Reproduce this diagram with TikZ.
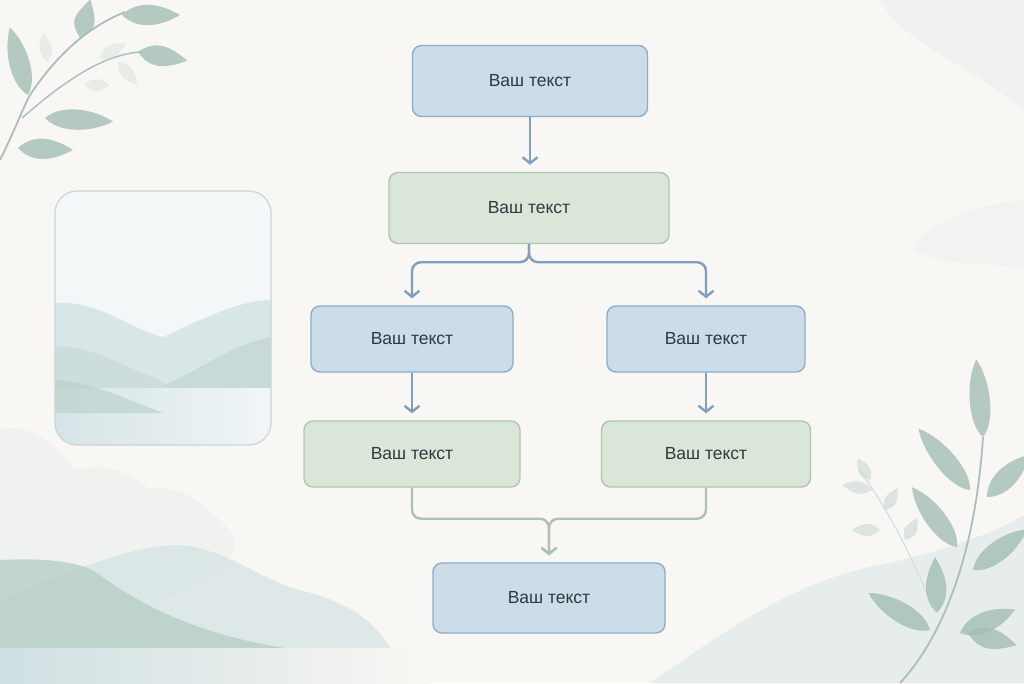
\documentclass[tikz,border=0pt]{standalone}
\usepackage{fontspec}
\setsansfont{Liberation Sans}
\usepackage{tikz}
\usetikzlibrary{arrows.meta}
\usetikzlibrary{calc,positioning}

\definecolor{paper}{HTML}{F8F7F3}
\definecolor{bluefill}{HTML}{CDDCE9}
\definecolor{blueline}{HTML}{8EADCA}
\definecolor{greenfill}{HTML}{D9E6D8}
\definecolor{greenline}{HTML}{AFC6AE}
\definecolor{flowblue}{HTML}{7F9FBE}
\definecolor{flowgreen}{HTML}{ABC2B2}
\definecolor{leafgreen}{HTML}{A3BEB4}
\definecolor{stemgreen}{HTML}{A9C0BA}
\definecolor{hillblue}{HTML}{CFDFE2}
\definecolor{hillgreen}{HTML}{B5CDC4}
\definecolor{frameline}{HTML}{C9D5DC}
\definecolor{textgray}{HTML}{2E3A40}

\begin{document}
\begin{tikzpicture}[x=1pt, y=-1pt, >=Stealth,
    box/.style={draw, line width=1.4pt, rounded corners=9pt, minimum height=66pt,
        font=\sffamily\fontsize{17.5}{20}\selectfont, text=textgray},
    bluebox/.style={box, fill=bluefill, draw=blueline},
    greenbox/.style={box, fill=greenfill, draw=greenline},
    flow/.style={line width=2.4pt, draw=flowblue, shorten >=7pt, rounded corners=9pt,
        -{Straight Barb[length=6pt, width=15pt]}},
    merge/.style={flow, draw=flowgreen},
    leaf/.style={fill=leafgreen, fill opacity=0.8, draw=none},
    faintleaf/.style={fill=leafgreen!60!white, fill opacity=0.35, draw=none}]

    \useasboundingbox (0,0) rectangle (1024,683);
    \fill[paper] (0,0) rectangle (1024,683);

    % soft clouds and hills
    \fill[hillblue, opacity=0.2] (1024,0) -- (880,0) .. controls (900,40) and (960,60) .. (1024,110) -- cycle;
    \fill[hillblue, opacity=0.15] (1024,200) .. controls (960,205) and (905,240) .. (915,250)
        .. controls (950,270) and (1000,260) .. (1024,270) -- cycle;
    \fill[hillblue, opacity=0.2] (0,600) -- (0,430) .. controls (30,420) and (60,450) .. (75,470)
        .. controls (110,460) and (140,480) .. (150,490) .. controls (180,480) and (210,510) .. (230,530)
        .. controls (250,560) and (200,590) .. (150,600) -- cycle;
    \fill[hillblue, opacity=0.6] (0,640) -- (0,600) .. controls (60,575) and (130,545) .. (180,545)
        .. controls (230,550) and (260,580) .. (300,590) .. controls (340,600) and (370,615) .. (390,648)
        -- (0,648) -- cycle;
    \fill[hillgreen, opacity=0.75] (0,648) -- (0,560) .. controls (40,558) and (80,560) .. (100,575)
        .. controls (140,605) and (200,635) .. (285,648) -- cycle;
    \shade[left color=hillblue, right color=paper] (0,648) rectangle (430,683);
    \fill[hillblue, opacity=0.4] (650,683) .. controls (740,620) and (800,580) .. (880,565)
        .. controls (950,550) and (1000,530) .. (1024,515) -- (1024,683) -- cycle;

    % picture frame
    \begin{scope}
        \clip[rounded corners=22pt] (55,191) rectangle (271,445);
        \fill[hillblue!25!white] (55,191) rectangle (271,445);
        \fill[hillblue, opacity=0.7] (55,303) .. controls (100,300) and (130,330) .. (163,337)
            .. controls (200,320) and (240,300) .. (271,300) -- (271,445) -- (55,445) -- cycle;
        \fill[hillgreen, opacity=0.35] (55,347) .. controls (90,345) and (120,365) .. (155,378)
            -- (271,445) -- (55,445) -- cycle;
        \fill[hillgreen, opacity=0.45] (271,337) .. controls (230,345) and (200,370) .. (165,385)
            -- (271,445) -- cycle;
        \shade[left color=hillblue!85!white, right color=hillblue!30!white] (55,388) rectangle (271,445);
        \fill[hillgreen, opacity=0.55] (55,380) .. controls (90,382) and (130,400) .. (163,413)
            -- (55,413) -- cycle;
    \end{scope}
    \draw[frameline, line width=1.2pt, rounded corners=22pt] (55,191) rectangle (271,445);

    % branch top left
    \draw[stemgreen, line width=1.8pt] (0,160) .. controls (15,130) and (22,110) .. (30,95)
        .. controls (50,65) and (80,30) .. (125,12);
    \draw[stemgreen, line width=1.4pt] (22,118) .. controls (60,85) and (100,55) .. (140,52);
    \foreach \x/\y/\a/\l in {28/95/105/70, 80/38/75/40, 122/15/0/58, 138/52/-10/50,
        45/118/-3/68, 18/148/-2/55} {
        \fill[leaf, shift={(\x,\y)}, rotate=\a]
            (0,0) .. controls (14,14) and (\l-22,13) .. (\l,0)
            .. controls (\l-22,-13) and (14,-14) .. (0,0);
    }
    \foreach \x/\y/\a/\l in {48/62/100/30, 100/58/30/30, 118/62/-50/30, 85/85/0/25} {
        \fill[faintleaf, shift={(\x,\y)}, rotate=\a]
            (0,0) .. controls (8,8) and (\l-12,8) .. (\l,0)
            .. controls (\l-12,-8) and (8,-8) .. (0,0);
    }

    % branch bottom right
    \draw[stemgreen!50!white, line width=1.2pt] (930,600) .. controls (900,530) and (880,500) .. (860,470);
    \foreach \x/\y/\a/\l in {870/480/120/25, 872/490/170/30, 880/530/180/28, 885/510/60/25, 905/540/60/25} {
        \fill[faintleaf, opacity=0.6, shift={(\x,\y)}, rotate=\a]
            (0,0) .. controls (8,8) and (\l-12,8) .. (\l,0)
            .. controls (\l-12,-8) and (8,-8) .. (0,0);
    }
    \draw[stemgreen, line width=1.8pt] (900,683) .. controls (940,640) and (975,560) .. (983,437);
    \foreach \x/\y/\a/\l in {983/437/95/78, 970/490/130/80, 987/497/45/60, 957/547/127/75,
        973/570/37/68, 937/613/92/56, 930/630/149/72, 960/633/23/60, 968/633/-14/50} {
        \fill[leaf, shift={(\x,\y)}, rotate=\a]
            (0,0) .. controls (14,14) and (\l-22,13) .. (\l,0)
            .. controls (\l-22,-13) and (14,-14) .. (0,0);
    }

    % flow chart
    \node[bluebox, minimum width=235pt, minimum height=71pt] (n1) at (530,81) {Ваш текст};
    \node[greenbox, minimum width=280pt, minimum height=71pt] (n2) at (529,208) {Ваш текст};
    \node[bluebox, minimum width=202pt] (n3) at (412,339) {Ваш текст};
    \node[bluebox, minimum width=198pt] (n4) at (706,339) {Ваш текст};
    \node[greenbox, minimum width=216pt] (n5) at (412,454) {Ваш текст};
    \node[greenbox, minimum width=209pt] (n6) at (706,454) {Ваш текст};
    \node[bluebox, minimum width=232pt, minimum height=70pt] (n7) at (549,598) {Ваш текст};

    \draw[flow] (n1.south) -- (n1.south |- n2.north);
    \draw[flow] (n2.south) -- ++(0,18) -| (n3.north);
    \draw[flow] (n2.south) -- ++(0,18) -| (n4.north);
    \draw[flow] (n3.south) -- (n5.north);
    \draw[flow] (n4.south) -- (n6.north);
    \draw[merge] (n5.south) -- ++(0,31) -| (n7.north);
    \draw[merge] (n6.south) -- ++(0,31) -| (n7.north);

\end{tikzpicture}
\end{document}
